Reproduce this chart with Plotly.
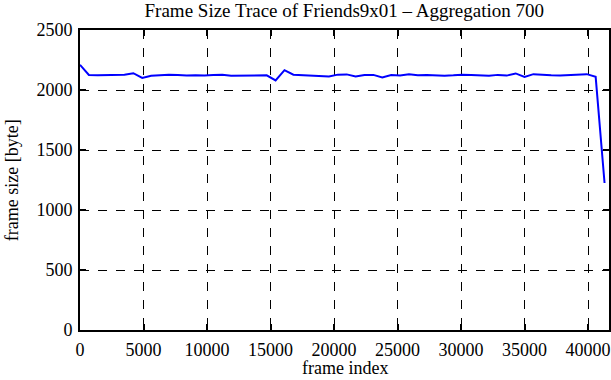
import plotly.graph_objects as go

frame_index = [i * 700 for i in range(60)]
frame_size = [2210, 2125, 2122, 2125, 2124, 2128, 2140, 2100, 2118, 2124,
              2128, 2125, 2120, 2122, 2120, 2126, 2128, 2118, 2120, 2124,
              2126, 2122, 2080, 2165, 2128, 2125, 2122, 2115, 2112, 2128,
              2130, 2112, 2125, 2126, 2105, 2125, 2120, 2132, 2122, 2124,
              2120, 2118, 2122, 2128, 2126, 2122, 2118, 2126, 2120, 2138,
              2108, 2132, 2125, 2122, 2120, 2122, 2124, 2132, 2110, 1225]

x_ticks = [0, 5000, 10000, 15000, 20000, 25000, 30000, 35000, 40000]
x_tick_labels = [str(v) for v in x_ticks]
y_ticks = [0, 500, 1000, 1500, 2000, 2500]
y_tick_labels = [str(v) for v in y_ticks]

font = dict(family="Liberation Serif", size=18, color="black")

fig = go.Figure()
fig.add_trace(go.Scatter(x=frame_index, y=frame_size, mode="lines",
                         line=dict(color="#0000ff", width=2), showlegend=False))

axis_common = dict(showline=True, linecolor="black", linewidth=2, mirror="ticks",
                   ticks="inside", ticklen=6, tickcolor="black", tickwidth=1.5,
                   showgrid=True, gridcolor="black", gridwidth=1, griddash="dash",
                   zeroline=False, tickfont=font, automargin=False)

fig.update_layout(
    width=611, height=380,
    margin=dict(l=80, r=2, t=30, b=50),
    paper_bgcolor="white", plot_bgcolor="white",
    font=font,
    title=dict(text="Frame Size Trace of Friends9x01 \u2013 Aggregation 700",
               x=0.5635, xanchor="center", y=0.972, yanchor="middle",
               font=dict(family="Liberation Serif", size=19, color="black")),
    xaxis=dict(range=[0, 41650], tickvals=x_ticks, ticktext=x_tick_labels,
               ticklabelstandoff=2, **axis_common),
    yaxis=dict(range=[0, 2500], tickvals=y_ticks, ticktext=y_tick_labels,
               ticklabelstandoff=2, **axis_common),
    annotations=[
        dict(text="frame index", xref="paper", yref="paper", x=0.5, y=-0.125,
             xanchor="center", yanchor="middle", showarrow=False, font=font),
        dict(text="frame size [byte]", xref="paper", yref="paper", x=-0.128, y=0.5,
             xanchor="center", yanchor="middle", textangle=-90, showarrow=False, font=font),
    ],
)

fig.write_html("out.html", config={"displayModeBar": False},
               post_script="document.body.style.margin='0';")
